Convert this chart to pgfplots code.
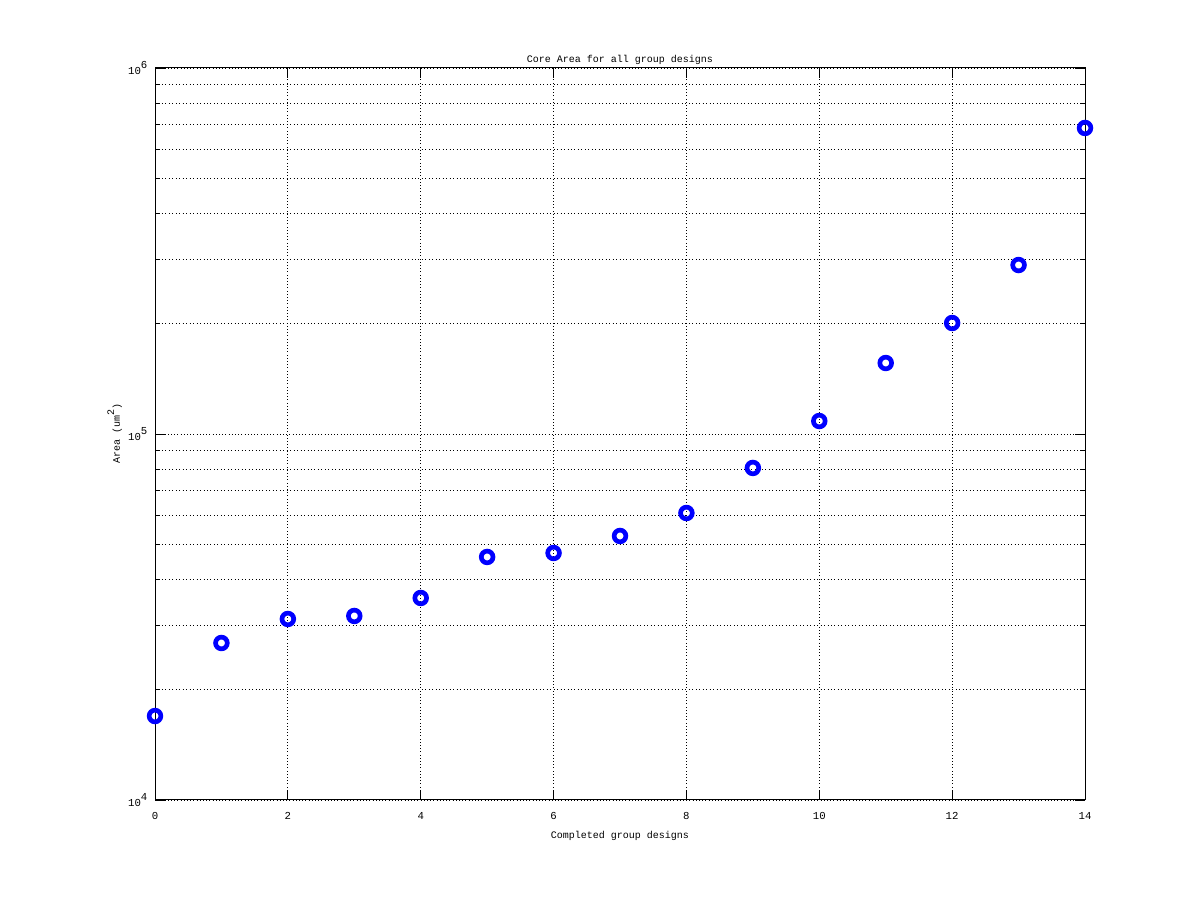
\documentclass[border=0pt]{standalone}
\usepackage{fontspec}
\setmainfont{Liberation Mono}
\usepackage{pgfplots}
\pgfplotsset{compat=1.18}
\begin{document}
\fontsize{7.5}{9}\selectfont
\begin{tikzpicture}
\path[use as bounding box, fill=white] (0,0) rectangle (900pt,675pt);
\begin{axis}[
  at={(116.25pt,75pt)}, anchor=south west,
  scale only axis, width=697.5pt, height=549pt,
  ymode=log, xmin=0, xmax=14, ymin=1e4, ymax=1e6,
  xtick={0,2,...,14},
  ytick={1e4,1e5,1e6},
  yticklabels={10\raisebox{1.1ex}{4},10\raisebox{1.1ex}{5},10\raisebox{1.1ex}{6}},
  minor ytick={2e4,3e4,4e4,5e4,6e4,7e4,8e4,9e4,2e5,3e5,4e5,5e5,6e5,7e5,8e5,9e5},
  log basis y=10,
  /pgf/number format/assume math mode=true,
  ticklabel style={font=\fontsize{8}{9}\selectfont},
  xticklabel style={yshift=-6.5pt},
  yticklabel style={xshift=-3pt},
  tick align=inside,
  major tick length=7.5pt, minor tick length=4pt,
  tick style={black, line width=0.6pt},
  xmajorgrids, ymajorgrids, yminorgrids,
  grid style={dotted, black, line width=0.6pt},
  minor grid style={dotted, black, line width=0.6pt},
  axis line style={line width=0.75pt},
  title={Core Area for all group designs},
  title style={font=\fontsize{7.5}{9}\selectfont, yshift=-6pt},
  xlabel={Completed group designs},
  ylabel={Area (um\raisebox{1.1ex}{2})},
  label style={font=\fontsize{7.5}{9}\selectfont},
  xlabel style={yshift=-3.5pt},
  ylabel style={yshift=-0.5pt},
  clip=false,
]
\addplot[only marks, mark=o, mark size=4.4pt, blue, mark options={line width=3.5pt}] coordinates {
(0,16960) (1,26850) (2,31230) (3,31830) (4,35640) (5,46130) (6,47300)
(7,52640) (8,60830) (9,80750) (10,108500) (11,156300) (12,201000)
(13,289500) (14,685600)
};
\end{axis}
\end{tikzpicture}
\end{document}
